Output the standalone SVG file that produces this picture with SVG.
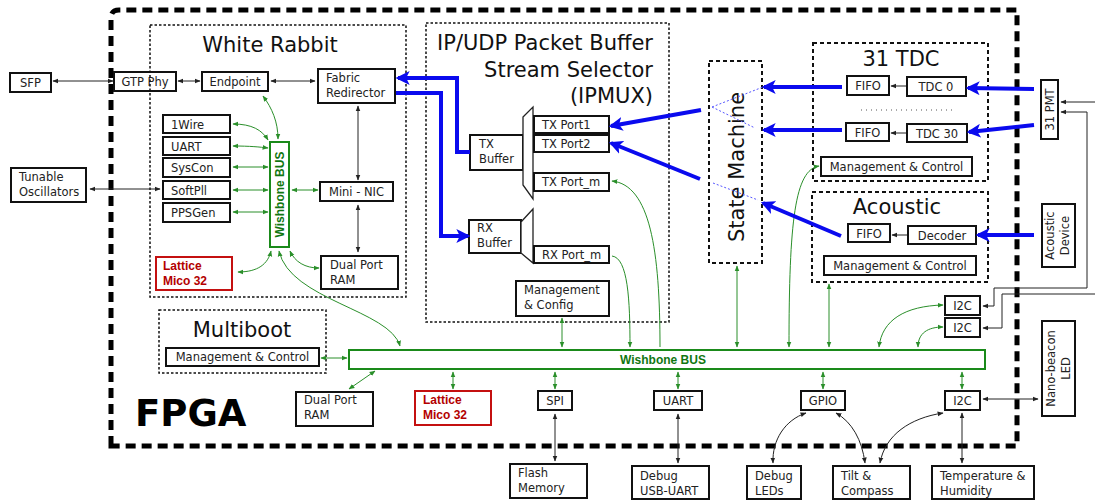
<svg xmlns="http://www.w3.org/2000/svg" width="1095" height="501" viewBox="0 0 1095 501">
<defs>
<marker id="ak" viewBox="0 0 10 10" refX="9" refY="5" markerWidth="6" markerHeight="6" markerUnits="userSpaceOnUse" orient="auto-start-reverse"><path d="M0,1 L10,5 L0,9 z" fill="#222"/></marker>
<marker id="ag" viewBox="0 0 10 10" refX="9" refY="5" markerWidth="6" markerHeight="6" markerUnits="userSpaceOnUse" orient="auto-start-reverse"><path d="M0,1 L10,5 L0,9 z" fill="#2a8f2a"/></marker>
<marker id="ab" viewBox="0 0 12 12" refX="10" refY="6" markerWidth="14" markerHeight="14" markerUnits="userSpaceOnUse" orient="auto-start-reverse"><path d="M0,0 L12,6 L0,12 L3,6 z" fill="#0a0aee"/></marker>
</defs>
<style>
.box{fill:#fff;stroke:#111;stroke-width:2}
.rbox{fill:#fff;stroke:#c41010;stroke-width:2}
.mux{fill:#fff;stroke:#222;stroke-width:1.3}
.sec{fill:none;stroke:#111;stroke-width:1.5;stroke-dasharray:2.5 2}
.sec2{fill:none;stroke:#111;stroke-width:2;stroke-dasharray:4 3}
.t{font-family:"DejaVu Sans",Verdana,sans-serif;font-size:11.5px;fill:#222}
.c{text-anchor:middle}
.title{font-family:"DejaVu Sans",Verdana,sans-serif;font-size:21px;fill:#111}
.rt{font-family:"Liberation Sans",Arial,sans-serif;font-weight:bold;font-size:12px;fill:#b30000}
.bus{fill:#fff;stroke:#1a8a1a;stroke-width:2}
.bt{font-family:"Liberation Sans",Arial,sans-serif;font-weight:bold;font-size:12px;fill:#117711;text-anchor:middle}
.k{fill:none;stroke:#222;stroke-width:1;marker-start:url(#ak);marker-end:url(#ak)}
.k1{fill:none;stroke:#222;stroke-width:1;marker-end:url(#ak)}
.g{fill:none;stroke:#2a8f2a;stroke-width:1;marker-start:url(#ag);marker-end:url(#ag)}
.g1{fill:none;stroke:#2a8f2a;stroke-width:1;marker-end:url(#ag)}
.b{fill:none;stroke:#0a0aee;stroke-width:4;stroke-linejoin:miter;marker-end:url(#ab)}
.bd{fill:none;stroke:#5555ff;stroke-width:1;stroke-dasharray:2 2}
</style>
<rect width="1095" height="501" fill="#fff"/>

<g id="fpga">
<path d="M111,446 L111,18 Q111,10 119,10 L1017,10 L1017,446 Z" fill="none" stroke="#000" stroke-width="5" stroke-dasharray="10 6"/>
<text x="135" y="426" style="font-family:'DejaVu Sans',Verdana,sans-serif;font-weight:bold;font-size:37px;fill:#000">FPGA</text>
</g>

<g id="gtp-phy"><rect class="box" x="114" y="72" width="62" height="19"/><text class="t c" x="145" y="86">GTP Phy</text></g>

<g id="white-rabbit">
<rect class="sec" x="150" y="25" width="256" height="272"/>
<text class="title c" x="270" y="52">White Rabbit</text>
</g>
<g id="ipmux">
<rect class="sec" x="426" y="23" width="243" height="299"/>
<text class="title" x="653" y="50" text-anchor="end">IP/UDP Packet Buffer</text>
<text class="title" x="653" y="77" text-anchor="end">Stream Selector</text>
<text class="title" x="653" y="103" text-anchor="end">(IPMUX)</text>
</g>
<g id="state-machine">
<rect class="sec2" x="709" y="61" width="53" height="202"/>
<text class="title c" transform="translate(744,167) rotate(-90)">State Machine</text>
</g>
<g id="tdc">
<rect class="sec2" x="813" y="43" width="175" height="138"/>
<text class="title c" x="901" y="66">31 TDC</text>
<line x1="861" y1="110" x2="952" y2="110" stroke="#555" stroke-width="1" stroke-dasharray="1 4"/>
</g>
<g id="acoustic">
<rect class="sec2" x="812" y="192" width="176" height="90"/>
<text class="title c" x="897" y="214">Acoustic</text>
</g>
<g id="multiboot">
<rect class="sec" x="159" y="310" width="167" height="63"/>
<text class="title c" x="242" y="337">Multiboot</text>
</g>

<g id="sfp"><rect class="box" x="10" y="73" width="41" height="19"/><text class="t c" x="30.5" y="87">SFP</text></g>
<g id="endpoint"><rect class="box" x="202" y="72" width="66" height="19"/><text class="t c" x="235" y="86">Endpoint</text></g>
<g id="fabric-redirector"><rect class="box" x="318" y="69" width="77" height="34"/><text class="t" x="326" y="82">Fabric</text><text class="t" x="326" y="97">Redirector</text></g>
<g id="onewire"><rect class="box" x="163" y="115" width="67" height="18"/><text class="t" x="171" y="129">1Wire</text></g>
<g id="uart-wr"><rect class="box" x="163" y="137" width="67" height="18"/><text class="t" x="171" y="151">UART</text></g>
<g id="syscon"><rect class="box" x="163" y="158" width="67" height="19"/><text class="t" x="171" y="172">SysCon</text></g>
<g id="softpll"><rect class="box" x="163" y="181" width="67" height="18"/><text class="t" x="171" y="195">SoftPll</text></g>
<g id="ppsgen"><rect class="box" x="163" y="203" width="67" height="19"/><text class="t" x="171" y="217">PPSGen</text></g>
<g id="tunable-osc"><rect class="box" x="11" y="168" width="75" height="34"/><text class="t" x="19" y="181">Tunable</text><text class="t" x="19" y="196">Oscillators</text></g>
<g id="wb-bus-wr"><rect class="bus" x="270" y="142" width="19" height="105"/><text class="bt" transform="translate(284,194.5) rotate(-90)">Wishbone BUS</text></g>
<g id="lm32-wr"><rect class="rbox" x="156" y="257" width="76" height="33"/><text class="rt" x="163" y="270">Lattice</text><text class="rt" x="163" y="285">Mico 32</text></g>
<g id="mini-nic"><rect class="box" x="320" y="182" width="73" height="19"/><text class="t c" x="356.5" y="196">Mini - NIC</text></g>
<g id="dpram-wr"><rect class="box" x="321" y="256" width="77" height="33"/><text class="t" x="330" y="269">Dual Port</text><text class="t" x="330" y="284">RAM</text></g>

<g id="tx-buffer"><rect class="box" x="470" y="135" width="53" height="35"/><text class="t" x="479" y="148">TX</text><text class="t" x="479" y="163">Buffer</text></g>
<g id="tx-mux"><polygon class="mux" points="523,117 533,107 533,199 523,185"/></g>
<g id="tx-port1"><rect class="box" x="534" y="116" width="75" height="17"/><text class="t" x="542" y="129">TX Port1</text></g>
<g id="tx-port2"><rect class="box" x="534" y="135" width="75" height="17"/><text class="t" x="542" y="148">TX Port2</text></g>
<g id="tx-portm"><rect class="box" x="534" y="173" width="75" height="18"/><text class="t" x="542" y="186">TX Port_m</text></g>
<g id="rx-buffer"><rect class="box" x="469" y="220" width="52" height="33"/><text class="t" x="477" y="232">RX</text><text class="t" x="477" y="247">Buffer</text></g>
<g id="rx-mux"><polygon class="mux" points="521,222 533,209 533,263 521,253"/></g>
<g id="rx-portm"><rect class="box" x="534" y="246" width="75" height="17"/><text class="t" x="542" y="259">RX Port_m</text></g>
<g id="mgmt-config"><rect class="box" x="516" y="281" width="93" height="35"/><text class="t" x="524" y="294">Management</text><text class="t" x="524" y="309">&amp; Config</text></g>

<g id="fifo-tdc0"><rect class="box" x="847" y="76" width="42" height="19"/><text class="t c" x="868" y="90">FIFO</text></g>
<g id="tdc0"><rect class="box" x="907" y="77" width="59" height="19"/><text class="t c" x="936" y="91">TDC 0</text></g>
<g id="fifo-tdc30"><rect class="box" x="846" y="123" width="43" height="18"/><text class="t c" x="867.5" y="137">FIFO</text></g>
<g id="tdc30"><rect class="box" x="907" y="124" width="60" height="18"/><text class="t c" x="937" y="138">TDC 30</text></g>
<g id="mgmt-tdc"><rect class="box" x="821" y="157" width="151" height="19"/><text class="t c" x="896.5" y="171">Management &amp; Control</text></g>
<g id="fifo-ac"><rect class="box" x="848" y="224" width="42" height="18"/><text class="t c" x="869" y="238">FIFO</text></g>
<g id="decoder"><rect class="box" x="908" y="226" width="68" height="18"/><text class="t c" x="942" y="240">Decoder</text></g>
<g id="mgmt-ac"><rect class="box" x="824" y="256" width="152" height="19"/><text class="t c" x="900" y="270">Management &amp; Control</text></g>
<g id="pmt"><rect class="box" x="1041" y="80" width="17" height="59"/><text class="t c" transform="translate(1054,109.5) rotate(-90)">31 PMT</text></g>
<g id="acoustic-device"><rect class="box" x="1042" y="204" width="33" height="63"/><g transform="translate(1054,235.5) rotate(-90)"><text class="t c" x="0" y="0">Acoustic</text><text class="t c" x="0" y="15">Device</text></g></g>
<g id="nano-beacon"><rect class="box" x="1042" y="321" width="33" height="95"/><g transform="translate(1055,368.5) rotate(-90)"><text class="t c" x="0" y="0">Nano-beacon</text><text class="t c" x="0" y="15">LED</text></g></g>

<g id="mgmt-multiboot"><rect class="box" x="166" y="348" width="153" height="18"/><text class="t c" x="242.5" y="361">Management &amp; Control</text></g>
<g id="wb-bus"><rect class="bus" x="349" y="350" width="636" height="19"/><text class="bt" x="663" y="364">Wishbone BUS</text></g>
<g id="dpram"><rect class="box" x="296" y="392" width="77" height="34"/><text class="t" x="304" y="404">Dual Port</text><text class="t" x="304" y="419">RAM</text></g>
<g id="lm32"><rect class="rbox" x="415" y="391" width="76" height="34"/><text class="rt" x="423" y="404">Lattice</text><text class="rt" x="423" y="419">Mico 32</text></g>
<g id="spi"><rect class="box" x="538" y="391" width="34" height="19"/><text class="t c" x="555" y="405">SPI</text></g>
<g id="flash"><rect class="box" x="510" y="464" width="77" height="34"/><text class="t" x="518" y="477">Flash</text><text class="t" x="518" y="492">Memory</text></g>
<g id="uart"><rect class="box" x="654" y="391" width="48" height="19"/><text class="t c" x="678" y="405">UART</text></g>
<g id="debug-usb"><rect class="box" x="632" y="466" width="77" height="33"/><text class="t" x="640" y="480">Debug</text><text class="t" x="640" y="495">USB-UART</text></g>
<g id="gpio"><rect class="box" x="801" y="391" width="44" height="19"/><text class="t c" x="823" y="405">GPIO</text></g>
<g id="debug-leds"><rect class="box" x="747" y="466" width="54" height="33"/><text class="t" x="755" y="480">Debug</text><text class="t" x="755" y="495">LEDs</text></g>
<g id="tilt"><rect class="box" x="833" y="466" width="77" height="33"/><text class="t" x="841" y="480">Tilt &amp;</text><text class="t" x="841" y="495">Compass</text></g>
<g id="i2c-bottom"><rect class="box" x="945" y="391" width="35" height="19"/><text class="t c" x="962.5" y="405">I2C</text></g>
<g id="temp"><rect class="box" x="932" y="466" width="102" height="33"/><text class="t" x="940" y="480">Temperature &amp;</text><text class="t" x="940" y="495">Humidity</text></g>
<g id="i2c-up"><rect class="box" x="945" y="296" width="35" height="19"/><text class="t c" x="962.5" y="310">I2C</text></g>
<g id="i2c-low"><rect class="box" x="945" y="318" width="35" height="19"/><text class="t c" x="962.5" y="332">I2C</text></g>

<g id="connectors">
<path class="k" d="M53,81 L113,81"/>
<path class="k" d="M178,81 L200,81"/>
<path class="k" d="M271,81 L315,81"/>
<path class="k" d="M90,189 L160,189"/>
<path class="k" d="M358,106 L358,180"/>
<path class="k" d="M358,205 L358,252"/>
<path class="k1" d="M906,86 L891,86"/>
<path class="k1" d="M906,133 L891,133"/>
<path class="k1" d="M907,235 L892,235"/>
<path class="k1" d="M1095,102 L1061,102"/>
<path class="k" d="M983,306 L994,306 L994,288 L1087,288 L1087,112 L1061,112"/>
<path class="k1" d="M1095,294 L1002,294 L1002,328 L983,328"/>
<path class="k" d="M983,399 L1038,399"/>
<path class="k" d="M555,414 L555,461"/>
<path class="k" d="M678,414 L678,463"/>
<path class="k" d="M806,413 C785,420 772,440 773,463"/>
<path class="k" d="M836,413 C852,422 862,440 865,463"/>
<path class="k" d="M943,413 C910,418 885,435 880,463"/>
<path class="k" d="M962,413 L962,463"/>

<path class="g" d="M263,96 C272,108 278,122 278,139"/>
<path class="g" d="M233,124 C252,124 262,130 268,140"/>
<path class="g" d="M233,146 C250,146 260,147 268,148"/>
<path class="g" d="M233,167 L268,167"/>
<path class="g" d="M233,190 L268,190"/>
<path class="g" d="M233,212 L268,212"/>
<path class="g" d="M292,190 L318,190"/>
<path class="g" d="M238,272 C258,272 268,264 271,251"/>
<path class="g" d="M290,251 C295,262 305,268 319,268"/>
<path class="g" d="M279,251 C290,300 390,310 400,346"/>
<path class="g" d="M321,358 L347,358"/>
<path class="g" d="M562,318 L562,347"/>
<path class="g1" d="M612,256 C628,258 630,300 630,347"/>
<path class="g1" d="M660,347 C660,250 650,185 612,181"/>
<path class="g" d="M737,266 L737,347"/>
<path class="g" d="M789,347 C789,220 795,170 819,166"/>
<path class="g" d="M829,284 L829,347"/>
<path class="g" d="M879,347 C882,320 905,306 943,305"/>
<path class="g" d="M918,347 C918,333 928,327 943,327"/>
<path class="g" d="M375,371 L349,389"/>
<path class="g" d="M453,372 L453,389"/>
<path class="g" d="M555,372 L555,389"/>
<path class="g" d="M678,372 L678,389"/>
<path class="g" d="M823,372 L823,389"/>
<path class="g" d="M962,372 L962,389"/>

<path class="b" d="M470,152 L457,152 L457,78 L398,78"/>
<path class="b" d="M396,93 L441,93 L441,236 L468,236"/>
<path class="b" d="M701,110 L611,126"/>
<path class="b" d="M700,179 L611,143"/>
<path class="b" d="M842,87 L764,87"/>
<path class="b" d="M842,130 L764,130"/>
<path class="b" d="M841,236 L763,203"/>
<path class="b" d="M1034,89 L968,88"/>
<path class="b" d="M1034,125 L969,132"/>
<path class="b" d="M1034,235 L978,235"/>
<path class="bd" d="M712,107 L763,87"/>
<path class="bd" d="M712,107 L755,128"/>
<path class="bd" d="M713,183 L758,200"/>
</g>
</svg>
